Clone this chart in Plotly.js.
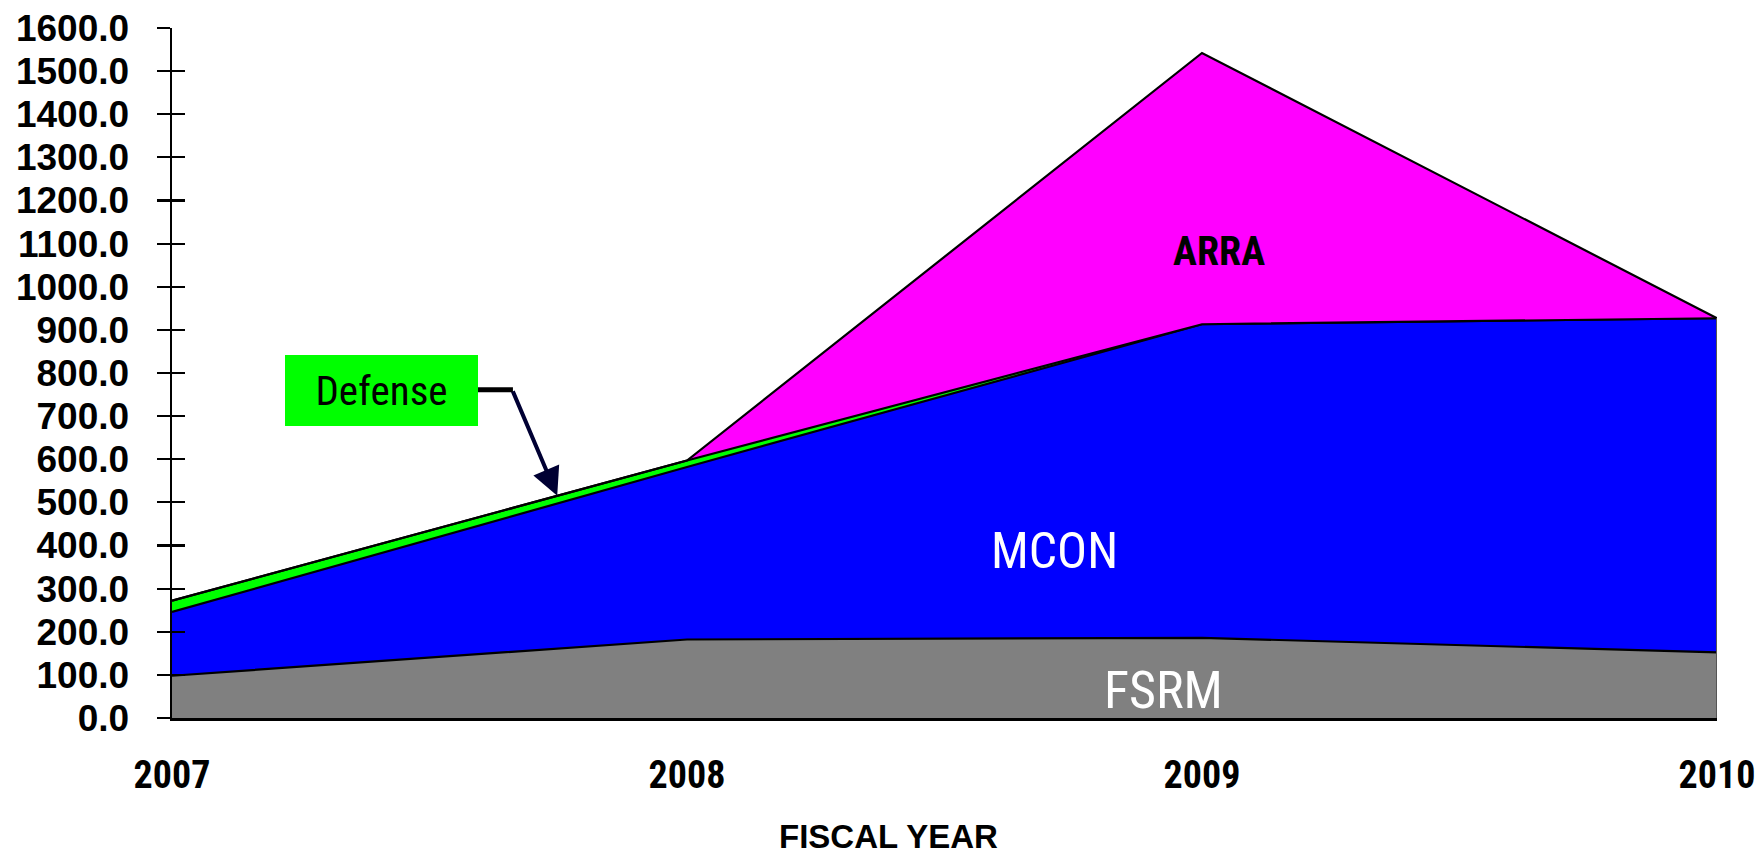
<!DOCTYPE html>
<html>
<head>
<meta charset="utf-8">
<script src="https://cdn.plot.ly/plotly-3.0.1.min.js"></script>
<style>html,body{margin:0;padding:0;background:#fff;}#chart{width:1756px;height:859px;}</style>
</head>
<body>
<div id="chart"></div>
<script>
const years = [2007, 2008, 2009, 2010];
const yearLabels = ['2007', '2008', '2009', '2010'];
const fsrm = [98, 182, 186, 152];
const mcon = [148, 400, 727, 775];
const defense = [26, 15, 0, 0];
const arra = [0, 0, 629, 0];
const yTicks = [0, 100, 200, 300, 400, 500, 600, 700, 800, 900, 1000, 1100, 1200, 1300, 1400, 1500, 1600];

const narrow = 'Liberation Sans Narrow, Arial Narrow, Roboto Condensed, sans-serif';
const sans = 'Liberation Sans, Arial, sans-serif';

function area(name, vals, color) {
  return {
    type: 'scatter', mode: 'lines', name: name, x: years, y: vals,
    stackgroup: 'one', fillcolor: color,
    line: {color: '#000000', width: 2.2, shape: 'linear'},
    hoverinfo: 'skip'
  };
}
const traces = [
  area('FSRM', fsrm, '#808080'),
  area('MCON', mcon, '#0000FF'),
  area('Defense', defense, '#00FF00'),
  area('ARRA', arra, '#FF00FF'),
  {type: 'scatter', x: [], y: [], yaxis: 'y2', showlegend: false, hoverinfo: 'skip'}
];

const totals = years.map((_, i) => fsrm[i] + mcon[i] + defense[i] + arra[i]);
const last = years.length - 1;
// arrow target on the Defense top edge, 3/4 of the way from 2007 to 2008
const tipFrac = 0.748;
const tipX = years[0] + tipFrac * (years[1] - years[0]);
const tipY = totals[0] + tipFrac * (totals[1] - totals[0]);

const layout = {
  width: 1756, height: 859,
  paper_bgcolor: '#ffffff', plot_bgcolor: '#ffffff',
  margin: {l: 172, r: 39, t: 28, b: 141},
  showlegend: false,
  xaxis: {
    range: [years[0], years[last]], tickvals: years, ticktext: yearLabels,
    showgrid: false, zeroline: false, ticks: '', showline: true,
    linecolor: '#000000', linewidth: 2.5,
    tickfont: {family: narrow, size: 38, color: '#000000', weight: 'bold'},
    ticklabelstandoff: 22, automargin: false, fixedrange: true
  },
  yaxis: {
    range: [0, 1600], tickvals: yTicks, tickformat: '.1f',
    showgrid: false, zeroline: false, ticks: 'outside', ticklen: 13, tickwidth: 2.2,
    tickcolor: '#000000', showline: true, linecolor: '#000000', linewidth: 2.5,
    tickfont: {family: sans, size: 37, color: '#000000', weight: 'bold'},
    ticklabelstandoff: 20, automargin: false, fixedrange: true
  },
  yaxis2: {
    range: [0, 1600], tickvals: yTicks, overlaying: 'y', anchor: 'x', side: 'left',
    showgrid: false, zeroline: false, ticks: 'inside', ticklen: 13, tickwidth: 2.2,
    tickcolor: '#000000', showticklabels: false, showline: false, fixedrange: true
  },
  shapes: [
    {type: 'line', xref: 'x', yref: 'y', x0: years[last], x1: years[last], y0: 0, y1: totals[last],
     line: {color: '#555555', width: 2}},
    {type: 'line', xref: 'x', yref: 'y', x0: 2007.594, x1: 2007.662, y0: 761, y1: 761,
     line: {color: '#000000', width: 5}}
  ],
  annotations: [
    {xref: 'x', yref: 'y', x: 2009.033, y: 1081, text: 'ARRA', showarrow: false,
     font: {family: narrow, size: 40, color: '#000000', weight: 'bold'}},
    {xref: 'x', yref: 'y', x: 2008.713, y: 388, text: 'MCON', showarrow: false,
     font: {family: narrow, size: 50, color: '#ffffff'}},
    {xref: 'x', yref: 'y', x: 2008.926, y: 63, text: 'FSRM', showarrow: false,
     font: {family: narrow, size: 52, color: '#ffffff'}},
    {xref: 'x', yref: 'y', x: 2007.407, y: 760, text: 'Defense', showarrow: false,
     bgcolor: '#00FF00', width: 193, height: 71, borderpad: 0, borderwidth: 0,
     font: {family: narrow, size: 41, color: '#000000'}},
    {xref: 'x', yref: 'y', x: tipX, y: tipY, text: '', showarrow: true,
     ax: -45, ay: -106, arrowcolor: '#000033', arrowwidth: 4, arrowhead: 2, arrowsize: 1.4},
    {xref: 'paper', yref: 'paper', x: (888 - 172) / 1545, y: -0.2, yanchor: 'bottom',
     text: 'FISCAL YEAR', showarrow: false, borderpad: 0,
     font: {family: sans, size: 33, color: '#000000', weight: 'bold'}}
  ]
};

Plotly.newPlot('chart', traces, layout, {displayModeBar: false, staticPlot: true});
</script>
</body>
</html>
